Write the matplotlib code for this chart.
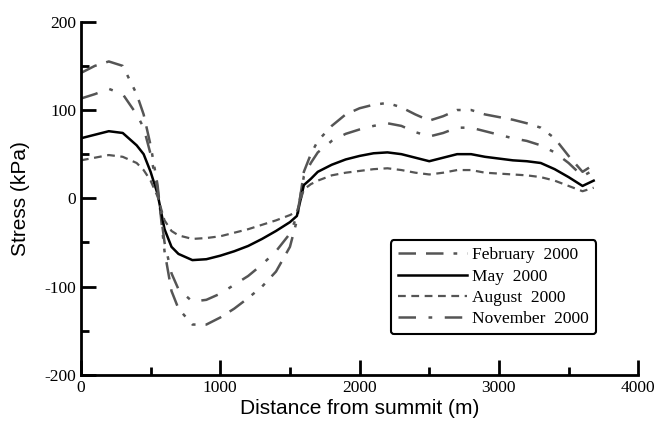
import matplotlib.pyplot as plt
from matplotlib.ticker import MultipleLocator

plt.rcParams['axes.unicode_minus'] = False

# distance from summit (m)
dist = [0, 100, 200, 300, 400, 450, 500, 550, 600, 650, 700, 800, 900, 1000,
        1100, 1200, 1300, 1400, 1500, 1550, 1600, 1650, 1700, 1800, 1900, 2000,
        2100, 2200, 2300, 2400, 2500, 2600, 2700, 2800, 2900, 3000, 3100, 3200,
        3300, 3400, 3500, 3600, 3680]

feb = [142, 150, 155, 150, 118, 95, 60, 15, -60, -105, -125, -143, -143, -135,
       -125, -113, -100, -83, -55, -25, 30, 50, 65, 82, 95, 102,
       106, 108, 103, 95, 88, 93, 100, 100, 95, 92, 89, 85,
       80, 68, 48, 30, 38]
may = [68, 72, 76, 74, 60, 50, 30, 5, -35, -55, -63, -70, -69, -65,
       -60, -54, -46, -37, -27, -20, 15, 22, 30, 38, 44, 48,
       51, 52, 50, 46, 42, 46, 50, 50, 47, 45, 43, 42,
       40, 33, 24, 14, 20]
aug = [43, 46, 49, 47, 40, 32, 20, 2, -25, -37, -42, -46, -45, -43,
       -39, -35, -30, -25, -19, -15, 10, 16, 20, 26, 29, 31,
       33, 34, 32, 29, 27, 29, 32, 32, 29, 28, 27, 26,
       24, 20, 14, 8, 12]
nov = [113, 118, 124, 118, 95, 80, 50, 10, -50, -85, -103, -117, -115, -108,
       -98, -88, -75, -60, -40, -20, 25, 40, 52, 65, 73, 78,
       82, 85, 82, 75, 70, 74, 80, 80, 76, 72, 68, 65,
       60, 52, 40, 25, 32]

fig = plt.figure(figsize=(6.58, 4.26), dpi=100)
ax = fig.add_axes([0.123, 0.12, 0.847, 0.829])

grey = '#555555'
ax.plot(dist, feb, color=grey, lw=1.8, dashes=(7, 4, 7, 4, 1.5, 4, 1.5, 4), label='February  2000')
ax.plot(dist, may, color='black', lw=1.8, label='May  2000')
ax.plot(dist, aug, color=grey, lw=1.6, dashes=(3.5, 2.5), label='August  2000')
ax.plot(dist, nov, color=grey, lw=1.8, dashes=(7, 5, 1.5, 5), label='November  2000')

ax.set_xlim(0, 4000)
ax.set_ylim(-200, 200)
ax.xaxis.set_major_locator(MultipleLocator(1000))
ax.xaxis.set_minor_locator(MultipleLocator(500))
ax.yaxis.set_major_locator(MultipleLocator(100))
ax.yaxis.set_minor_locator(MultipleLocator(50))
ax.tick_params(which='major', direction='in', length=11, width=2, labelsize=12.5)
ax.tick_params(which='minor', direction='in', length=6, width=2)
for lab in ax.get_xticklabels() + ax.get_yticklabels():
    lab.set_family('Liberation Serif')

for s in ['top', 'right']:
    ax.spines[s].set_visible(False)
for s in ['left', 'bottom']:
    ax.spines[s].set_linewidth(2)

ax.set_xlabel('Distance from summit (m)', family='Liberation Sans', fontsize=15, labelpad=2)
ax.set_ylabel('Stress (kPa)', family='Liberation Sans', fontsize=15, labelpad=10)

leg = ax.legend(loc='lower right', bbox_to_anchor=(0.94, 0.09),
                prop={'family': 'Liberation Serif', 'size': 12.5},
                frameon=True, fancybox=True, edgecolor='black',
                handlelength=4.0, handletextpad=0.3, labelspacing=0.3,
                borderpad=0.4)
leg.get_frame().set_linewidth(1.5)
leg.get_frame().set_alpha(1)

fig.savefig('out.png', dpi=100)
